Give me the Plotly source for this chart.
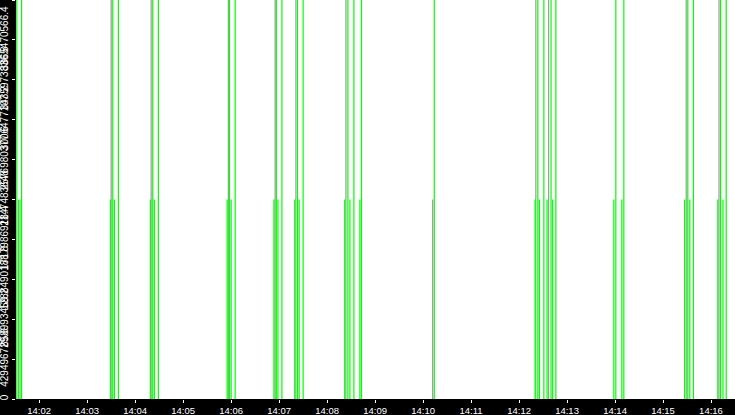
import plotly.graph_objects as go

# day the samples belong to (only the time of day is shown)
day = "2024-01-01 "

FULL = 4294967296
HALF = 2147483648

# spikes that reach the top of the scale
green_full = ["14:01:32", "14:01:38",
              "14:03:32", "14:03:39",
              "14:04:22", "14:04:29",
              "14:05:58", "14:06:05",
              "14:06:56.5", "14:07:03.5",
              "14:07:23", "14:07:30",
              "14:08:26", "14:08:33.5", "14:08:43",
              "14:10:14",
              "14:12:23.5", "14:12:31", "14:12:40", "14:12:46",
              "14:14:01", "14:14:11",
              "14:15:31", "14:15:38",
              "14:16:12", "14:16:19"]
gray_full = ["14:03:30", "14:04:20", "14:05:56.5", "14:06:55", "14:07:21",
             "14:08:23.5", "14:12:21", "14:12:37", "14:15:29", "14:16:10"]

# spikes that stop half way
green_half = ["14:01:36",
              "14:03:29", "14:03:34",
              "14:04:19", "14:04:24",
              "14:05:55", "14:06:00",
              "14:06:53.5", "14:06:58.5",
              "14:07:19.5", "14:07:25",
              "14:08:22", "14:08:28.5", "14:08:41",
              "14:12:20", "14:12:25.5", "14:12:35", "14:12:42",
              "14:13:58.5", "14:14:08.5",
              "14:15:27", "14:15:33.5",
              "14:16:08.5", "14:16:15"]
gray_half = ["14:01:34", "14:10:12"]

y_ticks = [i * FULL / 10 for i in range(11)]
y_labels = ["0", "429496729.6", "858993459.2", "1288490188.8", "1717986918.4",
            "2147483648", "2576980377.6", "3006477107.2", "3435973836.8",
            "3865470566.4", "4294967296"]


def segments(times, value):
    xs, ys = [], []
    for t in times:
        xs += [day + t, day + t, None]
        ys += [0, value, None]
    return xs, ys


fig = go.Figure()
for times, value, colour in [(gray_half, HALF, "#999999"), (gray_full, FULL, "#999999"),
                             (green_half, HALF, "#00ff00"), (green_full, FULL, "#00ff00")]:
    xs, ys = segments(times, value)
    fig.add_trace(go.Scatter(x=xs, y=ys, mode="lines", line=dict(color=colour, width=1.2),
                             hoverinfo="skip", showlegend=False))

fig.update_layout(
    template="none",
    width=735, height=415,
    margin=dict(l=16, r=0, t=0, b=16),
    paper_bgcolor="black",
    plot_bgcolor="white",
    font=dict(family="Liberation Sans", size=10, color="white"),
)
fig.update_xaxes(
    type="date", range=[day + "14:01:31", day + "14:16:30"],
    dtick=60000, tick0=day + "14:00:00", tickformat="%H:%M",
    ticks="outside", ticklen=3, tickcolor="white",
    tickfont=dict(size=9.5),
    showgrid=False, zeroline=False, showline=False, automargin=False,
)
fig.update_yaxes(
    range=[0, FULL], tickvals=y_ticks, ticktext=y_labels, tickangle=-90,
    ticks="outside", ticklen=3, tickcolor="white",
    showgrid=False, zeroline=False, showline=False, automargin=False,
)

# no page margin, so the figure fills the window
fig.write_html("out.html", config={"displayModeBar": False},
               post_script="document.body.style.margin='0';document.body.style.overflow='hidden';")
